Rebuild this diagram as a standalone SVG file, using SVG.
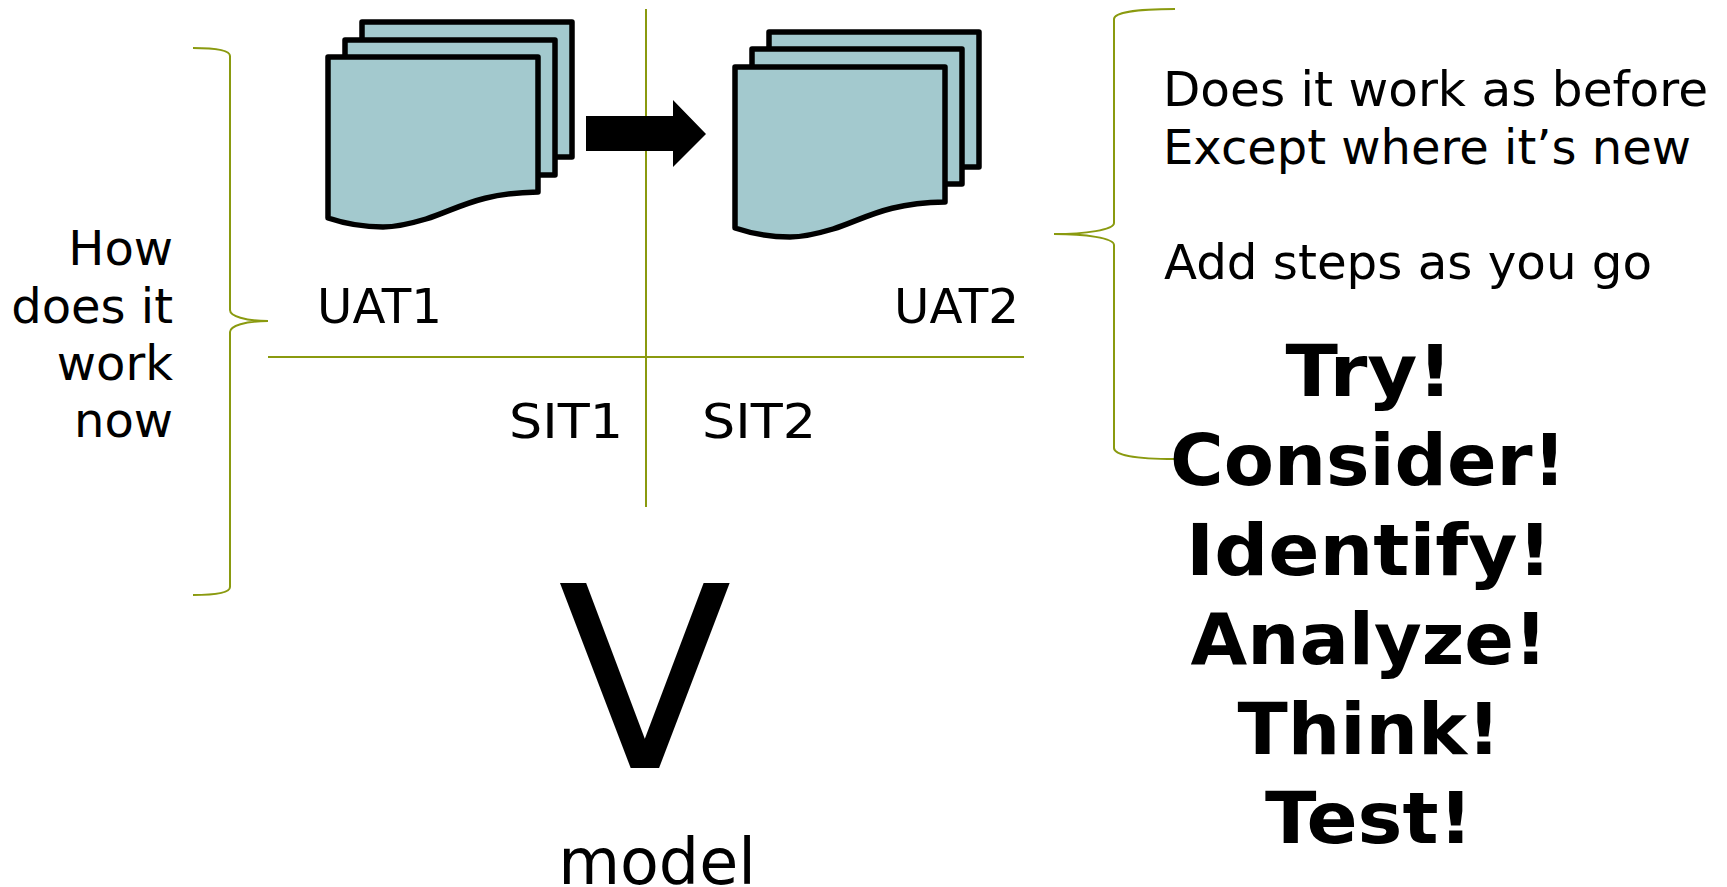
<svg xmlns="http://www.w3.org/2000/svg" width="1727" height="887" viewBox="0 0 1727 887">
<style>
text{font-family:"DejaVu Sans",Verdana,sans-serif;fill:#000}
.t{font-size:48px}
.b{font-size:72px;font-weight:bold;text-anchor:middle}
.e{text-anchor:end}
.ln{stroke:#8a9a0f;stroke-width:2;fill:none}
.doc{fill:#a3c9ce;stroke:#000;stroke-width:5.5;stroke-linejoin:round}
</style>
<defs>
<path id="sheet" d="M0 0H210V135C150 136 130 152 98 162C78 168 68 170 55 170C35 170 15 166 0 161Z"/>
<path id="back" d="M0 0H210V135H0Z"/>
</defs>
<rect width="1727" height="887" fill="#fff"/>
<g id="connectors">
<path class="ln" d="M646 9V507"/>
<path class="ln" d="M268 357H1024"/>
</g>
<g id="doc-uat1">
<use href="#back" class="doc" x="362" y="22"/>
<use href="#back" class="doc" x="345" y="40"/>
<use href="#sheet" class="doc" x="328" y="57"/>
</g>
<g id="doc-uat2">
<use href="#back" class="doc" x="769" y="32"/>
<use href="#back" class="doc" x="752" y="49"/>
<use href="#sheet" class="doc" x="735" y="67"/>
</g>
<g id="arrow"><path d="M586 116H673V100L706 134L673 167V151H586Z" fill="#000"/></g>
<g id="brace-left"><path class="ln" d="M193 48C215 48 230 50 230 56V310C230 316 245 321 268 321C245 321 230 326 230 332V587C230 593 215 595 193 595"/></g>
<g id="brace-right"><path class="ln" d="M1175 9C1135 9 1114 13 1114 19V223C1114 230 1085 234 1054 234C1085 234 1114 238 1114 245V448C1114 455 1135 459 1175 459"/></g>
<g id="label-how">
<text class="t e" x="173" y="265">How</text>
<text class="t e" x="173" y="323">does it</text>
<text class="t e" x="173" y="380">work</text>
<text class="t e" x="173" y="437">now</text>
</g>
<g id="label-uat1"><text class="t" x="317" y="323" textLength="125" lengthAdjust="spacingAndGlyphs">UAT1</text></g>
<g id="label-uat2"><text class="t" x="894" y="323" textLength="125" lengthAdjust="spacingAndGlyphs">UAT2</text></g>
<g id="label-sit1"><text class="t" x="509" y="438" textLength="114" lengthAdjust="spacingAndGlyphs">SIT1</text></g>
<g id="label-sit2"><text class="t" x="702" y="438" textLength="114" lengthAdjust="spacingAndGlyphs">SIT2</text></g>
<g id="label-v"><text x="645" y="768" font-size="254" text-anchor="middle">V</text></g>
<g id="label-model"><text x="657" y="884" font-size="63.5" text-anchor="middle">model</text></g>
<g id="label-right">
<text class="t" x="1163" y="106" textLength="545" lengthAdjust="spacingAndGlyphs">Does it work as before</text>
<text class="t" x="1163" y="164">Except where it’s new</text>
<text class="t" x="1164" y="279" textLength="488" lengthAdjust="spacingAndGlyphs">Add steps as you go</text>
</g>
<g id="label-steps">
<text class="b" x="1369" y="396" textLength="167" lengthAdjust="spacingAndGlyphs">Try!</text>
<text class="b" x="1368" y="485" textLength="396" lengthAdjust="spacingAndGlyphs">Consider!</text>
<text class="b" x="1369" y="575" textLength="366" lengthAdjust="spacingAndGlyphs">Identify!</text>
<text class="b" x="1369" y="664" textLength="357" lengthAdjust="spacingAndGlyphs">Analyze!</text>
<text class="b" x="1369" y="754" textLength="263" lengthAdjust="spacingAndGlyphs">Think!</text>
<text class="b" x="1369" y="843" textLength="208" lengthAdjust="spacingAndGlyphs">Test!</text>
</g>
</svg>
